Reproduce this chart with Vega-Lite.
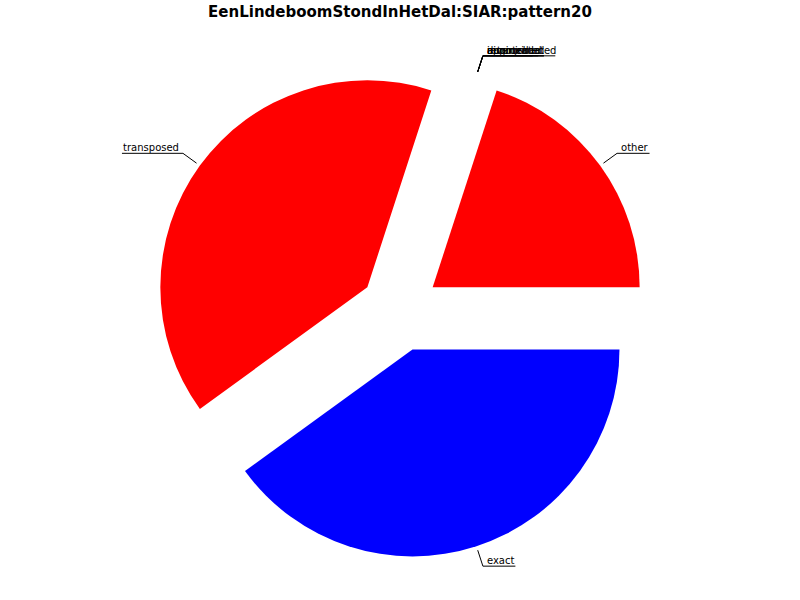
{
  "$schema": "https://vega.github.io/schema/vega-lite/v6.json",
  "width": 800,
  "height": 600,
  "autosize": {"type": "none"},
  "padding": 0,
  "background": "white",
  "config": {"view": {"stroke": null}},
  "title": {
    "text": "EenLindeboomStondInHetDal:SIAR:pattern20",
    "font": "DejaVu Sans",
    "fontSize": 15,
    "fontWeight": "bold",
    "color": "black",
    "anchor": "middle",
    "baseline": "top",
    "offset": 0,
    "dy": 20
  },
  "data": {
    "values": [
      {"idx": 1, "cat": "other", "value": 1},
      {"idx": 2, "cat": "approximated", "value": 0},
      {"idx": 3, "cat": "augmented", "value": 0},
      {"idx": 4, "cat": "diminished", "value": 0},
      {"idx": 5, "cat": "inverted", "value": 0},
      {"idx": 6, "cat": "retrograde", "value": 0},
      {"idx": 7, "cat": "transposed", "value": 2},
      {"idx": 8, "cat": "exact", "value": 2}
    ]
  },
  "transform": [
    {"joinaggregate": [{"op": "sum", "field": "value", "as": "total"}]},
    {"window": [{"op": "sum", "field": "value", "as": "cum"}], "sort": [{"field": "idx"}], "frame": [null, 0]},
    {"calculate": "2*PI*(datum.cum - datum.value)/datum.total", "as": "a0"},
    {"calculate": "2*PI*datum.cum/datum.total", "as": "a1"},
    {"calculate": "(datum.a0 + datum.a1)/2", "as": "m"},
    {"calculate": "0.195*cos(datum.m)", "as": "ex"},
    {"calculate": "0.195*sin(datum.m)", "as": "ey"},
    {"calculate": "PI/2 - datum.a1", "as": "th"},
    {"calculate": "PI/2 - datum.a0", "as": "th2"},
    {"calculate": "1.215*cos(datum.m)", "as": "lx0"},
    {"calculate": "1.215*sin(datum.m)", "as": "ly0"},
    {"calculate": "1.296*cos(datum.m)", "as": "lx1"},
    {"calculate": "1.296*sin(datum.m)", "as": "ly1"},
    {"calculate": "cos(datum.m) >= 0 ? 1 : -1", "as": "side"},
    {"calculate": "datum.lx1 + datum.side*(length(datum.cat)*5.7 + 4)/207", "as": "ux2"},
    {"calculate": "datum.lx1 + datum.side*4/207", "as": "tx"}
  ],
  "layer": [
    {
      "mark": {"type": "arc", "radius": 207, "stroke": null},
      "encoding": {
        "x": {"field": "ex", "type": "quantitative", "scale": {"domain": [-1.9324, 1.9324], "nice": false, "zero": false}, "axis": null},
        "y": {"field": "ey", "type": "quantitative", "scale": {"domain": [-1.39614, 1.50242], "nice": false, "zero": false}, "axis": null},
        "theta": {"field": "th", "type": "quantitative", "scale": null, "stack": null},
        "theta2": {"field": "th2"},
        "color": {"field": "cat", "type": "nominal", "legend": null,
          "scale": {"domain": ["other", "approximated", "augmented", "diminished", "inverted", "retrograde", "transposed", "exact"],
                    "range": ["#ff0000", "#ff0000", "#ff0000", "#ff0000", "#ff0000", "#ff0000", "#ff0000", "#0000ff"]}}
      }
    },
    {
      "mark": {"type": "rule", "color": "black", "strokeWidth": 1},
      "encoding": {
        "x": {"field": "lx0", "type": "quantitative", "scale": {"domain": [-1.9324, 1.9324], "nice": false, "zero": false}, "axis": null},
        "y": {"field": "ly0", "type": "quantitative", "scale": {"domain": [-1.39614, 1.50242], "nice": false, "zero": false}, "axis": null},
        "x2": {"field": "lx1"},
        "y2": {"field": "ly1"}
      }
    },
    {
      "mark": {"type": "rule", "color": "black", "strokeWidth": 1},
      "encoding": {
        "x": {"field": "lx1", "type": "quantitative", "scale": {"domain": [-1.9324, 1.9324], "nice": false, "zero": false}, "axis": null},
        "y": {"field": "ly1", "type": "quantitative", "scale": {"domain": [-1.39614, 1.50242], "nice": false, "zero": false}, "axis": null},
        "x2": {"field": "ux2"},
        "y2": {"field": "ly1"}
      }
    },
    {
      "transform": [{"filter": "datum.side > 0"}],
      "mark": {"type": "text", "align": "left", "baseline": "alphabetic", "dy": -2, "font": "DejaVu Sans", "fontSize": 10, "color": "black"},
      "encoding": {
        "x": {"field": "tx", "type": "quantitative", "scale": {"domain": [-1.9324, 1.9324], "nice": false, "zero": false}, "axis": null},
        "y": {"field": "ly1", "type": "quantitative", "scale": {"domain": [-1.39614, 1.50242], "nice": false, "zero": false}, "axis": null},
        "text": {"field": "cat"}
      }
    },
    {
      "transform": [{"filter": "datum.side < 0"}],
      "mark": {"type": "text", "align": "right", "baseline": "alphabetic", "dy": -2, "font": "DejaVu Sans", "fontSize": 10, "color": "black"},
      "encoding": {
        "x": {"field": "tx", "type": "quantitative", "scale": {"domain": [-1.9324, 1.9324], "nice": false, "zero": false}, "axis": null},
        "y": {"field": "ly1", "type": "quantitative", "scale": {"domain": [-1.39614, 1.50242], "nice": false, "zero": false}, "axis": null},
        "text": {"field": "cat"}
      }
    }
  ]
}
